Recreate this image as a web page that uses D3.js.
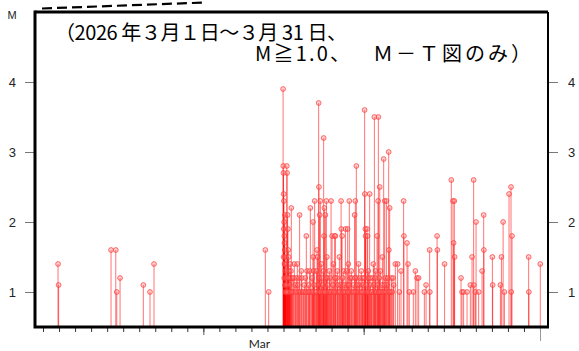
<!DOCTYPE html>
<html>
<head>
<meta charset="utf-8">
<script src="https://cdn.jsdelivr.net/npm/d3@7"></script>
<style>
  body { margin: 0; background: #fff; }
  svg { display: block; }
</style>
</head>
<body>
<div id="chart"></div>
<script>
// event origin times (2026, local) and magnitudes
const eventTimes = [
  '02-19 22:30', '02-19 23:20', '02-23 05:50', '02-23 12:55', '02-23 14:25', '02-23 19:20',
  '02-25 06:10', '02-25 16:10', '02-25 22:10',
  '03-04 20:50', '03-05 01:50', '03-05 23:24', '03-05 23:42',
  '03-06 00:00', '03-06 00:09', '03-06 00:18', '03-06 00:27', '03-06 00:36', '03-06 00:54',
  '03-06 01:03', '03-06 01:12', '03-06 01:21', '03-06 01:30', '03-06 01:48', '03-06 01:57',
  '03-06 02:06', '03-06 02:15', '03-06 02:24', '03-06 02:42', '03-06 02:51', '03-06 03:00',
  '03-06 03:18', '03-06 03:36', '03-06 04:57', '03-06 05:24', '03-06 06:09', '03-06 06:36',
  '03-06 07:12', '03-06 07:39', '03-06 08:15', '03-06 08:42', '03-06 09:27', '03-06 10:12',
  '03-06 11:42', '03-06 12:27', '03-06 13:12', '03-06 15:09', '03-06 16:12', '03-06 17:42',
  '03-06 19:12', '03-06 20:42', '03-06 22:39',
  '03-07 00:09', '03-07 01:12', '03-07 02:42', '03-07 04:57', '03-07 07:12', '03-07 10:12',
  '03-07 11:15', '03-07 12:45', '03-07 15:09', '03-07 16:12', '03-07 17:42', '03-07 20:15',
  '03-07 20:33', '03-07 21:09', '03-07 22:39', '03-07 23:42',
  '03-08 02:15', '03-08 03:00', '03-08 04:39', '03-08 05:06', '03-08 05:24', '03-08 06:09',
  '03-08 07:12', '03-08 07:57', '03-08 08:42', '03-08 10:12', '03-08 12:09', '03-08 12:36',
  '03-08 13:12', '03-08 14:42', '03-08 15:27', '03-08 16:12', '03-08 16:57', '03-08 17:42',
  '03-08 19:12', '03-08 20:42', '03-08 23:15',
  '03-09 00:09', '03-09 00:45', '03-09 01:57', '03-09 02:42', '03-09 04:39', '03-09 05:42',
  '03-09 06:27', '03-09 07:57', '03-09 08:42', '03-09 10:12', '03-09 11:42', '03-09 13:12',
  '03-09 14:15', '03-09 14:33', '03-09 15:45', '03-09 16:57', '03-09 18:09', '03-09 19:12',
  '03-09 20:42', '03-09 21:27', '03-09 22:39',
  '03-10 00:05', '03-10 01:03', '03-10 02:33', '03-10 03:18', '03-10 04:03', '03-10 05:33',
  '03-10 07:03', '03-10 08:33', '03-10 10:30', '03-10 11:33', '03-10 12:18', '03-10 13:03',
  '03-10 13:48', '03-10 15:18', '03-10 16:30', '03-10 17:33', '03-10 19:03', '03-10 20:33',
  '03-10 22:03', '03-10 23:33',
  '03-11 01:30', '03-11 01:48', '03-11 02:33', '03-11 02:51', '03-11 04:03', '03-11 05:06',
  '03-11 06:00', '03-11 07:03', '03-11 09:00', '03-11 10:03', '03-11 11:33', '03-11 13:03',
  '03-11 14:33', '03-11 16:03', '03-11 16:48', '03-11 18:00', '03-11 20:06', '03-11 21:36',
  '03-11 22:03',
  '03-12 00:05', '03-12 01:03', '03-12 02:33', '03-12 04:03', '03-12 06:00', '03-12 06:18',
  '03-12 07:30', '03-12 08:33', '03-12 10:03', '03-12 11:06', '03-12 13:30', '03-12 13:48',
  '03-12 15:00', '03-12 16:03', '03-12 17:33', '03-12 21:00', '03-12 23:24',
  '03-13 02:51', '03-13 05:24', '03-13 07:57', '03-13 11:51', '03-13 12:18', '03-13 16:57',
  '03-13 18:27', '03-13 20:24',
  '03-14 02:24', '03-14 05:24', '03-14 07:57', '03-14 10:21', '03-14 18:54', '03-14 21:27',
  '03-15 02:51', '03-15 03:09', '03-15 13:57', '03-15 14:24',
  '03-16 01:12', '03-16 11:15', '03-16 13:48', '03-16 14:42', '03-16 15:45', '03-16 16:12',
  '03-17 01:48', '03-17 03:18', '03-17 05:42', '03-17 10:48', '03-17 15:45', '03-17 18:18',
  '03-17 20:42', '03-17 21:00', '03-17 23:15',
  '03-18 00:18', '03-18 04:12', '03-18 09:18', '03-18 11:42', '03-18 12:00',
  '03-19 00:45', '03-19 01:12', '03-19 12:45', '03-19 14:15', '03-19 16:48', '03-19 18:45',
  '03-20 01:39', '03-20 04:39', '03-20 04:57', '03-20 06:09',
  '03-21 07:03', '03-21 07:21',
  '03-22 00:27',
  // small shocks packed into the swarm, 6-12 Mar
  '03-06 04:00', '03-06 04:30', '03-06 05:50', '03-06 07:00', '03-06 09:00', '03-06 10:45',
  '03-06 11:10', '03-06 14:00', '03-06 18:30', '03-06 21:30', '03-06 23:20',
  '03-07 03:30', '03-07 06:00', '03-07 08:30', '03-07 09:20', '03-07 13:40', '03-07 14:30',
  '03-07 18:40', '03-07 19:30', '03-07 22:00',
  '03-08 00:40', '03-08 01:30', '03-08 04:00', '03-08 06:40', '03-08 09:30', '03-08 11:00',
  '03-08 11:40', '03-08 14:00', '03-08 15:50', '03-08 18:20', '03-08 20:00', '03-08 21:40',
  '03-08 22:30',
  '03-09 03:20', '03-09 05:10', '03-09 09:30', '03-09 12:20', '03-09 16:20', '03-09 17:30',
  '03-09 20:00', '03-09 23:20',
  '03-10 00:40', '03-10 02:00', '03-10 06:20', '03-10 09:40', '03-10 11:00', '03-10 14:30',
  '03-10 18:20', '03-10 21:20', '03-10 22:40',
  '03-11 00:30', '03-11 03:30', '03-11 05:40', '03-11 06:40', '03-11 08:00', '03-11 09:40',
  '03-11 12:00', '03-11 15:10', '03-11 17:20', '03-11 19:00', '03-11 20:50', '03-11 22:40',
  '03-11 23:30',
  '03-12 00:50', '03-12 03:20', '03-12 05:00', '03-12 07:00', '03-12 09:20', '03-12 12:00',
  '03-12 14:20', '03-12 18:40', '03-12 20:00'
];

const eventMags = [
  1.4, 1.1, 1.6, 1.6, 1.0, 1.2,
  1.1, 1.0, 1.4,
  1.6, 1.0, 3.9, 2.8,
  2.7, 1.5, 2.4, 1.9, 2.3, 2.0,
  1.2, 1.8, 1.4, 1.7, 1.6, 2.1,
  1.5, 1.1, 1.4, 1.3, 1.0, 1.2,
  1.1, 1.0, 2.8, 2.7, 2.1, 1.9,
  1.6, 1.5, 1.3, 1.0, 1.2, 1.4,
  2.2, 1.0, 1.2, 1.2, 1.4, 1.1,
  1.2, 1.4, 1.0,
  2.1, 1.0, 1.3, 1.0, 1.1, 1.8,
  1.3, 1.0, 1.3, 2.2, 1.0, 2.0,
  1.5, 1.3, 2.3, 1.0,
  1.6, 1.5, 3.7, 2.5, 1.2, 2.1,
  2.3, 1.0, 1.4, 1.1, 3.2, 1.8,
  2.2, 2.1, 1.0, 2.3, 1.5, 1.2,
  1.0, 1.3, 2.3,
  1.0, 1.8, 1.1, 1.4, 1.8, 1.8,
  1.0, 1.2, 1.3, 1.0, 1.5, 1.1,
  2.3, 1.9, 1.8, 1.0, 1.3, 1.1,
  1.9, 1.0, 1.3,
  1.9, 1.4, 2.3, 1.0, 1.2, 1.3,
  1.0, 1.1, 2.1, 2.3, 1.0, 2.8,
  1.2, 1.0, 1.4, 1.1, 1.0, 1.3,
  1.2, 1.0,
  3.6, 2.4, 1.9, 1.8, 1.0, 1.9,
  1.8, 1.3, 2.4, 1.1, 1.0, 1.2,
  1.4, 3.5, 1.0, 1.3, 1.8, 2.3,
  3.5,
  2.5, 1.3, 1.0, 1.5, 2.9, 1.0,
  2.3, 1.2, 2.3, 1.1, 3.0, 1.6,
  2.2, 1.0, 1.2, 1.1, 1.4,
  1.4, 1.0, 1.3, 2.3, 1.8, 1.7,
  1.4, 1.0,
  1.0, 1.3, 1.2, 1.2, 1.0, 1.1,
  1.6, 1.0, 1.8, 1.6,
  1.4, 2.6, 2.3, 1.7, 2.3, 1.5,
  1.2, 1.0, 1.0, 1.0, 1.1, 1.5,
  2.6, 1.1, 1.0,
  2.0, 1.0, 1.3, 2.1, 1.6,
  1.5, 1.1, 1.1, 1.5, 2.0, 1.0,
  2.4, 2.5, 1.0, 1.8,
  1.5, 1.0,
  1.4,
  1.0, 1.1, 1.0, 1.2, 1.1, 1.0,
  1.3, 1.0, 1.0, 1.1, 1.2,
  1.2, 1.0, 1.2, 1.0, 1.1, 1.0,
  1.2, 1.0, 1.1,
  1.0, 1.3, 1.1, 1.0, 1.2, 1.0,
  1.3, 1.0, 1.2, 1.1, 1.0, 1.2,
  1.0,
  1.0, 1.2, 1.1, 1.0, 1.2, 1.0,
  1.0, 1.1,
  1.0, 1.1, 1.2, 1.0, 1.2, 1.1,
  1.2, 1.0, 1.1,
  1.2, 1.1, 1.0, 1.2, 1.0, 1.2,
  1.0, 1.1, 1.2, 1.0, 1.1, 1.0,
  1.2,
  1.0, 1.1, 1.0, 1.1, 1.0, 1.2,
  1.0, 1.0, 1.2
];

const magTicks = [1, 2, 3, 4];
const magDomain = [0.5, 5];
const timeDomain = ['02-18 12:00', '03-22 12:00'];
const majorDays = ['03-01 00:00', '03-11 00:00'];
const lastDay = '03-22 00:00';
const monthLabel = { text: 'Mar', at: '03-04 12:00' };
const titleLine1 = '（2026 年３月１日～３月 31 日、';
const titleLine2 = ['M≧1.0、', 'Ｍ－Ｔ図のみ）'];

const width = 579;
const height = 351;
const margin = { top: 12, right: 31, bottom: 24, left: 35 };

const parse = d3.timeParse('%Y-%m-%d %H:%M');
const toDate = (s) => parse('2026-' + s);

const data = eventTimes.map((t, i) => ({ t: toDate(t), m: eventMags[i] }));

const svg = d3.select('#chart')
  .append('svg')
  .attr('width', width)
  .attr('height', height);

const x = d3.scaleTime()
  .domain(timeDomain.map(toDate))
  .range([margin.left, width - margin.right]);

const y = d3.scaleLinear()
  .domain(magDomain)
  .range([height - margin.bottom, margin.top]);

const x0 = x.range()[0], x1 = x.range()[1];
const y0 = y.range()[0], y1 = y.range()[1];

// decorative dashed line above the frame
svg.append('path')
  .attr('d', `M${x0 + 7},${y1 - 3.5} L${x0 + 170},${y1 - 9.5}`)
  .attr('stroke', '#000')
  .attr('stroke-width', 2.2)
  .attr('stroke-dasharray', '10,5')
  .attr('fill', 'none');

// stems
svg.append('g')
  .selectAll('line')
  .data(data)
  .join('line')
  .attr('x1', (d) => x(d.t))
  .attr('x2', (d) => x(d.t))
  .attr('y1', y0)
  .attr('y2', (d) => y(d.m))
  .attr('stroke', '#ff0000')
  .attr('stroke-opacity', 0.55)
  .attr('stroke-width', 1);

// markers
svg.append('g')
  .selectAll('circle')
  .data(data)
  .join('circle')
  .attr('cx', (d) => x(d.t))
  .attr('cy', (d) => y(d.m))
  .attr('r', 2.4)
  .attr('fill', 'rgba(255,120,120,0.35)')
  .attr('stroke', '#ff3030')
  .attr('stroke-opacity', 0.75)
  .attr('stroke-width', 0.9);

// y axes
const tickFont = '"Liberation Sans", Arial, sans-serif';

const yLeft = svg.append('g')
  .attr('transform', `translate(${x0 - 1},0)`)
  .call(d3.axisLeft(y).tickValues(magTicks).tickSize(9).tickPadding(9).tickFormat(d3.format('d')));

const yRight = svg.append('g')
  .attr('transform', `translate(${x1 + 1},0)`)
  .call(d3.axisRight(y).tickValues(magTicks).tickSize(9).tickPadding(10).tickFormat(d3.format('d')));

[yLeft, yRight].forEach((g) => {
  g.select('.domain').remove();
  g.selectAll('line').attr('stroke', '#777');
  g.selectAll('text')
    .attr('fill', '#222')
    .style('font-family', tickFont)
    .style('font-size', '13px');
});

// x axis: daily ticks
const xAxis = svg.append('g')
  .attr('transform', `translate(0,${y0 + 1})`)
  .call(d3.axisBottom(x).ticks(d3.timeDay.every(1)).tickSize(4).tickFormat(''));
xAxis.select('.domain').remove();
xAxis.selectAll('line').attr('stroke', '#333');

const majorAxis = svg.append('g')
  .attr('transform', `translate(0,${y0 + 1})`)
  .call(d3.axisBottom(x).tickValues(majorDays.map(toDate)).tickSize(7).tickFormat(''));
majorAxis.select('.domain').remove();
majorAxis.selectAll('line').attr('stroke', '#555');

const lastAxis = svg.append('g')
  .attr('transform', `translate(0,${y0 + 1})`)
  .call(d3.axisBottom(x).tickValues([toDate(lastDay)]).tickSize(13).tickFormat(''));
lastAxis.select('.domain').remove();
lastAxis.selectAll('line').attr('stroke', '#999');

svg.append('text')
  .attr('x', x(toDate(monthLabel.at)))
  .attr('y', height - 3)
  .attr('text-anchor', 'middle')
  .style('font-family', 'Lato, "DejaVu Sans", sans-serif')
  .style('font-size', '12px')
  .attr('fill', '#222')
  .text(monthLabel.text);

svg.append('text')
  .attr('x', 12)
  .attr('y', 19)
  .attr('text-anchor', 'middle')
  .style('font-family', tickFont)
  .style('font-size', '11px')
  .attr('fill', '#222')
  .text('M');

// frame
svg.append('path')
  .attr('d', `M${x1},${y1} L${x1},${y0}`)
  .attr('stroke', '#000').attr('stroke-width', 2).attr('fill', 'none');
svg.append('path')
  .attr('d', `M${x0},${y1} L${x1},${y1}`)
  .attr('stroke', '#000').attr('stroke-width', 3).attr('fill', 'none');
svg.append('path')
  .attr('d', `M${x0},${y1 - 1.5} L${x0},${y0} L${x1 + 1},${y0}`)
  .attr('stroke', '#000').attr('stroke-width', 3).attr('fill', 'none');

// title inside the frame
const titleFont = '"Noto Sans CJK JP", sans-serif';
const title = svg.append('g')
  .style('font-family', titleFont)
  .style('font-size', '20px')
  .attr('fill', '#000');

title.append('text')
  .attr('x', x0 + 20)
  .attr('y', 40)
  .attr('textLength', 292)
  .attr('lengthAdjust', 'spacing')
  .text(titleLine1);

title.append('text')
  .attr('x', x0 + 220)
  .attr('y', 61)
  .attr('textLength', 95)
  .attr('lengthAdjust', 'spacing')
  .text(titleLine2[0]);

title.append('text')
  .attr('x', x0 + 338)
  .attr('y', 61)
  .attr('textLength', 158)
  .attr('lengthAdjust', 'spacing')
  .text(titleLine2[1]);
</script>
</body>
</html>
